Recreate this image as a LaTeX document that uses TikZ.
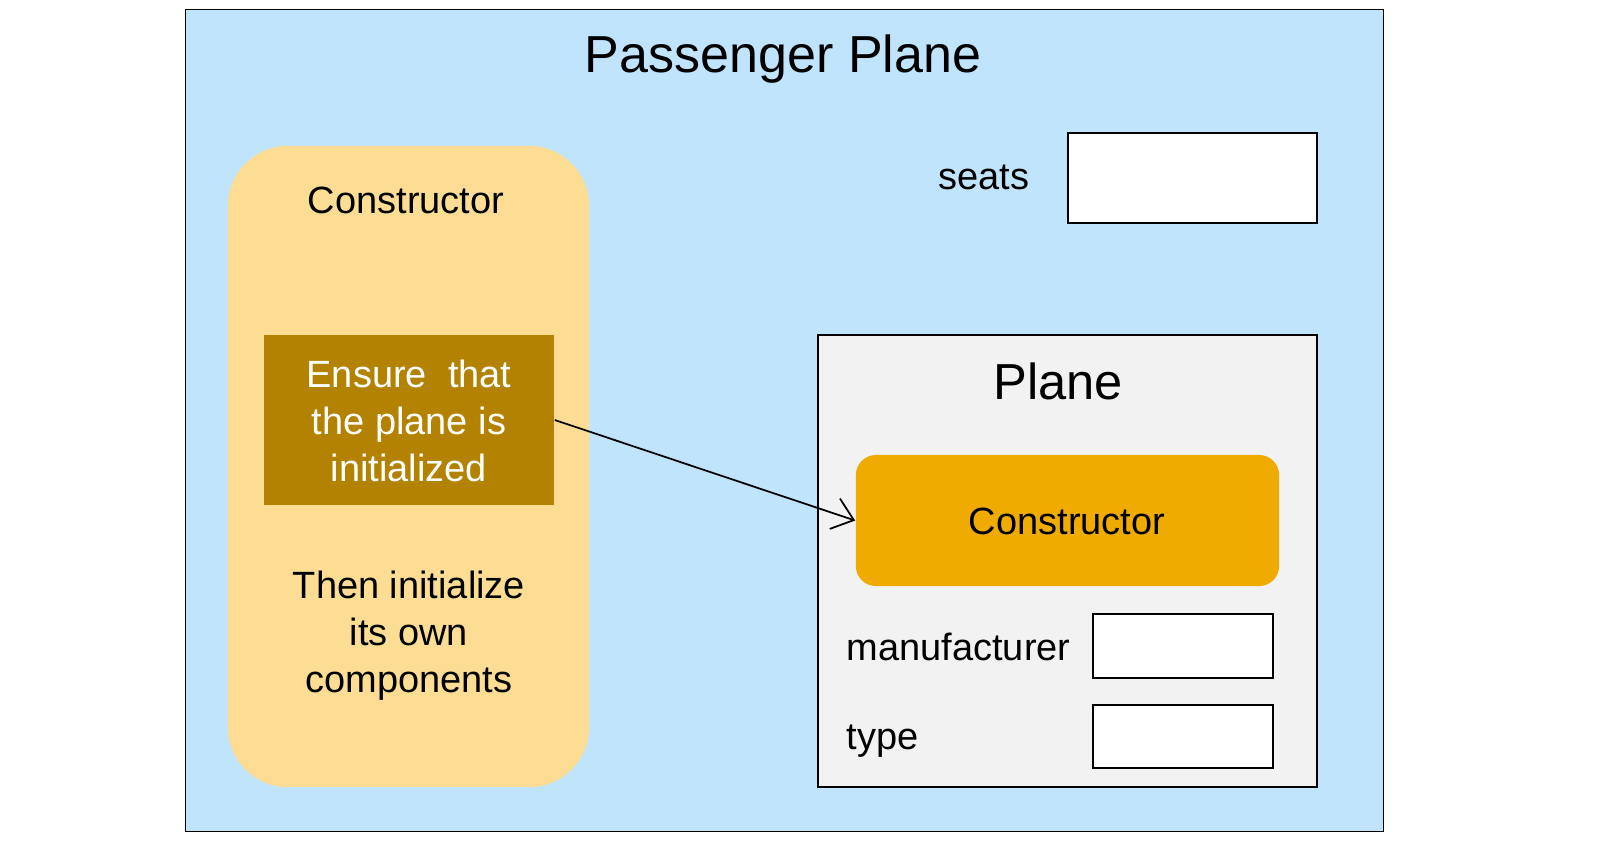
\documentclass[tikz,border=0pt]{standalone}
\usepackage{fontspec}
\setmainfont{Liberation Sans}
\usepackage{tikz}
\usetikzlibrary{arrows.meta}

\definecolor{skyfill}{HTML}{C1E4FD}
\definecolor{sandfill}{HTML}{FDDD93}
\definecolor{goldfill}{HTML}{B38200}
\definecolor{amberfill}{HTML}{F0AB00}
\definecolor{greyfill}{HTML}{F2F2F2}

\tikzset{
  box/.style={draw=black, line width=0.4pt, inner sep=0pt},
  field/.style={box, fill=white, minimum height=0.64cm},
  lbl/.style={font=\fontsize{10.8}{13.4}\selectfont, inner sep=0pt},
  big/.style={font=\fontsize{14.4}{17}\selectfont, inner sep=0pt}
}

\begin{document}
\begin{tikzpicture}[x=0.01cm, y=-0.01cm]
        \useasboundingbox (0,0) rectangle (1600,859);

        \node[box, fill=skyfill, minimum width=11.97cm, minimum height=8.21cm] (pp) at (784.5,420.5) {};
        \node[big, font=\fontsize{14.8}{17}\selectfont] (ppt) at (783,59) {Passenger Plane};

        \node[fill=sandfill, rounded corners=0.6cm, minimum width=3.61cm, minimum height=6.41cm] (ctor) at (408.5,466.5) {};
        \node[lbl] (ctort) at (406,200) {Constructor};
        \node[fill=goldfill, text=white, minimum width=2.9cm, minimum height=1.7cm, inner sep=0pt] (ens) at (409,420) {};
        \node[lbl, text=white, align=center] (enst) at (409,421) {Ensure\ \ that\\the plane is\\initialized};
        \node[lbl, align=center] (then) at (409,636) {Then initialize\\its own\\components};

        \node[lbl] (seats) at (984,177) {seats};
        \node[field, minimum width=2.49cm, minimum height=0.9cm] (seatsf) at (1192.5,178) {};

        \node[box, fill=greyfill, minimum width=4.99cm, minimum height=4.52cm] (pl) at (1067.5,561) {};
        \node[big] (plt) at (1058,381) {Plane};
        \node[fill=amberfill, rounded corners=0.2cm, minimum width=4.23cm, minimum height=1.31cm, inner sep=0pt] (pc) at (1067.5,520.5) {};
        \node[lbl] (pct) at (1067,521) {Constructor};

        \node[lbl, anchor=west] (man) at (846,647) {manufacturer};
        \node[field, minimum width=1.8cm] (manf) at (1183,646) {};
        \node[lbl, anchor=west] (typ) at (846,741) {type};
        \node[field, minimum width=1.8cm, minimum height=0.63cm] (typf) at (1183,736.5) {};

        \draw[-{Straight Barb[length=2mm, width=3.2mm]}, line width=0.5pt] (ens.east) -- (pc.west);
      \end{tikzpicture}
\end{document}
